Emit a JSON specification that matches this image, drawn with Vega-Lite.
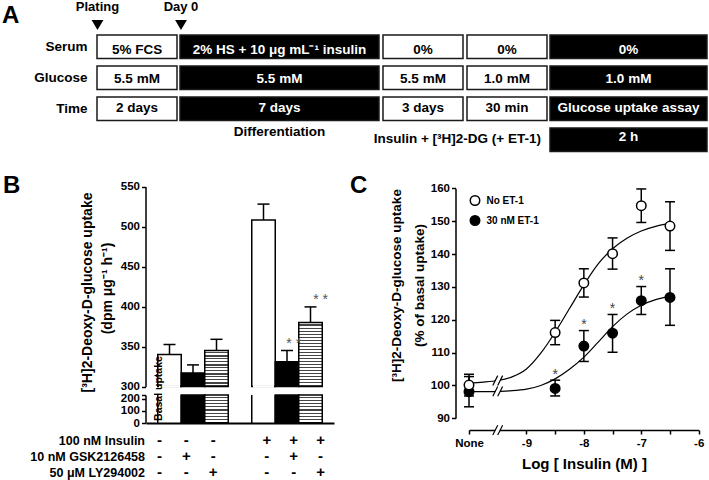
{
"$schema": "https://vega.github.io/schema/vega-lite/v6.json",
"width": 709, "height": 480, "padding": 0, "autosize": {"type": "none"},
"background": "white",
"config": {
 "font": "Liberation Sans",
 "view": {"stroke": null},
 "axis": {"grid": false, "domainColor": "black", "domainWidth": 1.5, "tickColor": "black", "tickWidth": 1.5, "tickSize": 4,
  "labelFont": "Liberation Sans", "labelFontWeight": "bold", "labelFontSize": 11.5, "labelColor": "black", "labelPadding": 2,
  "titleFont": "Liberation Sans", "titleFontWeight": "bold", "titleColor": "black", "labelOverlap": false, "labelFlush": false, "labelBound": false}
},
"resolve": {"scale": {"x": "independent", "y": "independent", "fill": "independent", "color": "independent"},
 "axis": {"x": "independent", "y": "independent"}, "legend": {"fill": "independent", "color": "independent"}},
"datasets": {
 "protocol": [
  {"row":"Serum","x0":97,"x1":177,"label":"5% FCS","shade":"light"},
  {"row":"Serum","x0":180,"x1":379,"label":"2% HS + 10 μg mL⁻¹ insulin","shade":"dark"},
  {"row":"Serum","x0":383,"x1":463,"label":"0%","shade":"light"},
  {"row":"Serum","x0":467,"x1":547,"label":"0%","shade":"light"},
  {"row":"Serum","x0":550,"x1":707,"label":"0%","shade":"dark"},
  {"row":"Glucose","x0":97,"x1":177,"label":"5.5 mM","shade":"light"},
  {"row":"Glucose","x0":180,"x1":379,"label":"5.5 mM","shade":"dark"},
  {"row":"Glucose","x0":383,"x1":463,"label":"5.5 mM","shade":"light"},
  {"row":"Glucose","x0":467,"x1":547,"label":"1.0 mM","shade":"light"},
  {"row":"Glucose","x0":550,"x1":707,"label":"1.0 mM","shade":"dark"},
  {"row":"Time","x0":97,"x1":177,"label":"2 days","shade":"light"},
  {"row":"Time","x0":180,"x1":379,"label":"7 days","shade":"dark"},
  {"row":"Time","x0":383,"x1":463,"label":"3 days","shade":"light"},
  {"row":"Time","x0":467,"x1":547,"label":"30 min","shade":"light"},
  {"row":"Time","x0":550,"x1":707,"label":"Glucose uptake assay","shade":"dark"},
  {"row":"Assay","x0":550,"x1":707,"label":"2 h","shade":"dark"}
 ],
 "notes": [
  {"note":"Differentiation","row":"Assay","x0":180,"x1":379},
  {"note":"Insulin + [³H]2-DG (+ ET-1)","row":"Assay","x0":373,"x1":541}
 ],
 "events": [{"event":"Plating","ex":97.5},{"event":"Day 0","ex":181}],
 "letters": [{"panel":"A","lx":2,"ly":23},{"panel":"B","lx":3,"ly":193},{"panel":"C","lx":350,"ly":193}],
 "uptake": [
  {"cond":"Basal","inhibitor":"none","mean":340,"upper":352.5},
  {"cond":"GSK","inhibitor":"GSK2126458","mean":317,"upper":327},
  {"cond":"LY","inhibitor":"LY294002","mean":345,"upper":359},
  {"cond":"Ins","inhibitor":"none","mean":508,"upper":528},
  {"cond":"Ins+GSK","inhibitor":"GSK2126458","mean":331,"upper":345,"sig":"* *"},
  {"cond":"Ins+LY","inhibitor":"LY294002","mean":380,"upper":399.5,"sig":"* *"}
 ],
 "design": [
  {"cond":"Basal","factor":"100 nM Insulin","sign":"-"},{"cond":"Basal","factor":"10 nM GSK2126458","sign":"-"},{"cond":"Basal","factor":"50 μM LY294002","sign":"-"},
  {"cond":"GSK","factor":"100 nM Insulin","sign":"-"},{"cond":"GSK","factor":"10 nM GSK2126458","sign":"+"},{"cond":"GSK","factor":"50 μM LY294002","sign":"-"},
  {"cond":"LY","factor":"100 nM Insulin","sign":"-"},{"cond":"LY","factor":"10 nM GSK2126458","sign":"-"},{"cond":"LY","factor":"50 μM LY294002","sign":"+"},
  {"cond":"Ins","factor":"100 nM Insulin","sign":"+"},{"cond":"Ins","factor":"10 nM GSK2126458","sign":"-"},{"cond":"Ins","factor":"50 μM LY294002","sign":"-"},
  {"cond":"Ins+GSK","factor":"100 nM Insulin","sign":"+"},{"cond":"Ins+GSK","factor":"10 nM GSK2126458","sign":"+"},{"cond":"Ins+GSK","factor":"50 μM LY294002","sign":"-"},
  {"cond":"Ins+LY","factor":"100 nM Insulin","sign":"+"},{"cond":"Ins+LY","factor":"10 nM GSK2126458","sign":"-"},{"cond":"Ins+LY","factor":"50 μM LY294002","sign":"+"}
 ],
 "doseresp": [
  {"series":"30 nM ET-1","logc":-10,"mean":98.1,"lo":93.5,"hi":102.7},
  {"series":"30 nM ET-1","logc":-8.5,"mean":99.1,"lo":96.8,"hi":101.6,"sig":"*"},
  {"series":"30 nM ET-1","logc":-8,"mean":112,"lo":107.3,"hi":116.7,"sig":"*"},
  {"series":"30 nM ET-1","logc":-7.5,"mean":115.9,"lo":110.1,"hi":121.6,"sig":"*"},
  {"series":"30 nM ET-1","logc":-7,"mean":125.8,"lo":121.6,"hi":130.1,"sig":"*"},
  {"series":"30 nM ET-1","logc":-6.5,"mean":126.8,"lo":118.3,"hi":135.5},
  {"series":"No ET-1","logc":-10,"mean":100.1,"lo":96.8,"hi":103.4},
  {"series":"No ET-1","logc":-8.5,"mean":116.1,"lo":112.4,"hi":119.8},
  {"series":"No ET-1","logc":-8,"mean":131.2,"lo":126.9,"hi":135.5},
  {"series":"No ET-1","logc":-7.5,"mean":140.1,"lo":135.4,"hi":144.9},
  {"series":"No ET-1","logc":-7,"mean":154.7,"lo":149.6,"hi":159.8},
  {"series":"No ET-1","logc":-6.5,"mean":148.5,"lo":141.1,"hi":155.9}
 ],
 "fits": [
  {"series":"No ET-1","logc":-10,"fit":100.7},{"series":"No ET-1","logc":-9.75,"fit":101.0},{"series":"No ET-1","logc":-9.5,"fit":101.5},
  {"series":"No ET-1","logc":-9.25,"fit":102.6},{"series":"No ET-1","logc":-9,"fit":105.0},{"series":"No ET-1","logc":-8.75,"fit":109.8},
  {"series":"No ET-1","logc":-8.5,"fit":116.2},{"series":"No ET-1","logc":-8.25,"fit":123.4},{"series":"No ET-1","logc":-8,"fit":130.6},
  {"series":"No ET-1","logc":-7.75,"fit":137.0},{"series":"No ET-1","logc":-7.5,"fit":141.6},{"series":"No ET-1","logc":-7.25,"fit":144.8},
  {"series":"No ET-1","logc":-7,"fit":147.0},{"series":"No ET-1","logc":-6.75,"fit":148.4},{"series":"No ET-1","logc":-6.5,"fit":149.3},
  {"series":"30 nM ET-1","logc":-10,"fit":98.1},{"series":"30 nM ET-1","logc":-9.75,"fit":98.1},{"series":"30 nM ET-1","logc":-9.5,"fit":98.2},
  {"series":"30 nM ET-1","logc":-9.25,"fit":98.4},{"series":"30 nM ET-1","logc":-9,"fit":98.9},{"series":"30 nM ET-1","logc":-8.75,"fit":100.0},
  {"series":"30 nM ET-1","logc":-8.5,"fit":102.0},{"series":"30 nM ET-1","logc":-8.25,"fit":104.9},{"series":"30 nM ET-1","logc":-8,"fit":108.6},
  {"series":"30 nM ET-1","logc":-7.75,"fit":113.2},{"series":"30 nM ET-1","logc":-7.5,"fit":117.9},{"series":"30 nM ET-1","logc":-7.25,"fit":121.7},
  {"series":"30 nM ET-1","logc":-7,"fit":124.4},{"series":"30 nM ET-1","logc":-6.75,"fit":126.1},{"series":"30 nM ET-1","logc":-6.5,"fit":127.2}
 ],
 "breaks": [
  {"where":"No ET-1 fit","logc":-9.5,"level":101.5},
  {"where":"30 nM ET-1 fit","logc":-9.5,"level":98.2},
  {"where":"x axis","logc":-9.5,"level":86.4}
 ]
},
"layer": [
 {"data":{"name":"protocol"},
  "mark":{"type":"rect","stroke":"#1a1a1a","strokeWidth":1.5},
  "encoding":{
   "x":{"field":"x0","type":"quantitative","scale":{"domain":[0,709],"range":[0,709],"nice":false,"zero":false},"axis":null},
   "x2":{"field":"x1"},
   "y":{"field":"row","type":"nominal","scale":{"domain":["Serum","Glucose","Time","Assay"],"range":[35,151.6],"paddingInner":0.24,"paddingOuter":0},
        "axis":{"orient":"left","offset":-97,"domain":false,"ticks":false,"labelPadding":10,"labelFontSize":13.5,"labelExpr":"datum.value == 'Assay' ? '' : datum.value","title":null}},
   "fill":{"field":"shade","type":"nominal","scale":{"domain":["light","dark"],"range":["white","black"]},"legend":null}}},
 {"data":{"name":"protocol"},
  "transform":[{"calculate":"(datum.x0 + datum.x1) / 2","as":"xc"}],
  "mark":{"type":"text","fontWeight":"bold","fontSize":13.5,"baseline":"middle","align":"center"},
  "encoding":{
   "x":{"field":"xc","type":"quantitative","scale":{"domain":[0,709],"range":[0,709],"nice":false,"zero":false},"axis":null},
   "y":{"field":"row","type":"nominal","scale":{"domain":["Serum","Glucose","Time","Assay"],"range":[35,151.6],"paddingInner":0.24,"paddingOuter":0},"axis":null},
   "text":{"field":"label"},
   "color":{"field":"shade","type":"nominal","scale":{"domain":["light","dark"],"range":["black","white"]},"legend":null}}},
 {"data":{"name":"notes"},
  "transform":[{"filter":"datum.note == 'Differentiation'"},{"calculate":"(datum.x0 + datum.x1) / 2","as":"xc"}],
  "mark":{"type":"text","fontWeight":"bold","fontSize":13.5,"baseline":"middle","align":"center","dy":-5,"color":"black"},
  "encoding":{
   "x":{"field":"xc","type":"quantitative","scale":{"domain":[0,709],"range":[0,709],"nice":false,"zero":false},"axis":null},
   "y":{"field":"row","type":"nominal","scale":{"domain":["Serum","Glucose","Time","Assay"],"range":[35,151.6],"paddingInner":0.24,"paddingOuter":0},"axis":null},
   "text":{"field":"note"}}},
 {"data":{"name":"notes"},
  "transform":[{"filter":"datum.note != 'Differentiation'"}],
  "mark":{"type":"text","fontWeight":"bold","fontSize":13.5,"baseline":"middle","align":"right","dy":2,"color":"black"},
  "encoding":{
   "x":{"field":"x1","type":"quantitative","scale":{"domain":[0,709],"range":[0,709],"nice":false,"zero":false},"axis":null},
   "y":{"field":"row","type":"nominal","scale":{"domain":["Serum","Glucose","Time","Assay"],"range":[35,151.6],"paddingInner":0.24,"paddingOuter":0},"axis":null},
   "text":{"field":"note"}}},
 {"data":{"name":"events"},
  "mark":{"type":"point","shape":"triangle-down","filled":true,"color":"black","opacity":1,"size":140},
  "encoding":{
   "x":{"field":"ex","type":"quantitative","scale":{"domain":[0,709],"range":[0,709],"nice":false,"zero":false},"axis":null},
   "y":{"datum":25,"type":"quantitative","scale":{"domain":[0,480],"range":[0,480],"nice":false,"zero":false},"axis":null}}},
 {"data":{"name":"events"},
  "mark":{"type":"text","fontWeight":"bold","fontSize":13,"baseline":"middle","align":"center","color":"black"},
  "encoding":{
   "x":{"field":"ex","type":"quantitative","scale":{"domain":[0,709],"range":[0,709],"nice":false,"zero":false},"axis":null},
   "y":{"datum":6.5,"type":"quantitative","scale":{"domain":[0,480],"range":[0,480],"nice":false,"zero":false},"axis":null},
   "text":{"field":"event"}}},
 {"data":{"name":"letters"},
  "mark":{"type":"text","fontWeight":"bold","fontSize":24,"baseline":"alphabetic","align":"left","color":"black"},
  "encoding":{
   "x":{"field":"lx","type":"quantitative","scale":{"domain":[0,709],"range":[0,709],"nice":false,"zero":false},"axis":null},
   "y":{"field":"ly","type":"quantitative","scale":{"domain":[0,480],"range":[0,480],"nice":false,"zero":false},"axis":null},
   "text":{"field":"panel"}}},

 {"data":{"name":"uptake"},
  "transform":[{"filter":"datum.inhibitor == 'none'"}],
  "mark":{"type":"rect","fill":"white","stroke":"black","strokeWidth":1.5},
  "encoding":{
   "x":{"field":"cond","type":"nominal","scale":{"domain":["Basal","GSK","LY","gap","Ins","Ins+GSK","Ins+LY"],"range":[146,334],"paddingInner":0,"paddingOuter":0.5},
        "axis":{"orient":"bottom","offset":-57,"ticks":false,"labels":false,"domainWidth":2.2,"title":null}},
   "y":{"field":"mean","type":"quantitative","scale":{"domain":[300,550],"range":[386.5,186.5],"nice":false,"zero":false},
        "axis":{"orient":"left","offset":-145.5,"values":[300,350,400,450,500,550],"title":"[³H]2-Deoxy-D-glucose uptake","titleX":-58,"titleY":292,"titleAngle":270,"titleAlign":"center","titleBaseline":"middle","titleFontSize":14}},
   "y2":{"datum":300}}},
 {"data":{"name":"uptake"},
  "transform":[{"filter":"datum.inhibitor == 'none'"}],
  "mark":{"type":"tick","orient":"horizontal","color":"white","opacity":1,"size":21,"thickness":2.5},
  "encoding":{
   "x":{"field":"cond","type":"nominal","scale":{"domain":["Basal","GSK","LY","gap","Ins","Ins+GSK","Ins+LY"],"range":[146,334],"paddingInner":0,"paddingOuter":0.5},"axis":null},
   "y":{"datum":300,"type":"quantitative","scale":{"domain":[300,550],"range":[386.5,186.5],"nice":false,"zero":false},"axis":null}}},
 {"data":{"name":"uptake"},
  "transform":[{"filter":"datum.inhibitor == 'GSK2126458'"}],
  "mark":{"type":"rect","fill":"black","stroke":"black","strokeWidth":1.5},
  "encoding":{
   "x":{"field":"cond","type":"nominal","scale":{"domain":["Basal","GSK","LY","gap","Ins","Ins+GSK","Ins+LY"],"range":[146,334],"paddingInner":0,"paddingOuter":0.5},"axis":null},
   "y":{"field":"mean","type":"quantitative","scale":{"domain":[300,550],"range":[386.5,186.5],"nice":false,"zero":false},"axis":null},
   "y2":{"datum":300}}},
 {"data":{"name":"uptake"},
  "transform":[{"filter":"datum.cond == 'LY'"}],
  "mark":{"type":"rect","stroke":"black","strokeWidth":1.5,
   "fill":{"gradient":"linear","x1":0,"y1":0,"x2":0,"y2":1,"stops":[
    {"offset":0,"color":"#fff"},{"offset":0.0542,"color":"#fff"},{"offset":0.0542,"color":"#444"},{"offset":0.0833,"color":"#444"},
    {"offset":0.0833,"color":"#fff"},{"offset":0.1375,"color":"#fff"},{"offset":0.1375,"color":"#444"},{"offset":0.1667,"color":"#444"},
    {"offset":0.1667,"color":"#fff"},{"offset":0.2208,"color":"#fff"},{"offset":0.2208,"color":"#444"},{"offset":0.25,"color":"#444"},
    {"offset":0.25,"color":"#fff"},{"offset":0.3042,"color":"#fff"},{"offset":0.3042,"color":"#444"},{"offset":0.3333,"color":"#444"},
    {"offset":0.3333,"color":"#fff"},{"offset":0.3875,"color":"#fff"},{"offset":0.3875,"color":"#444"},{"offset":0.4167,"color":"#444"},
    {"offset":0.4167,"color":"#fff"},{"offset":0.4708,"color":"#fff"},{"offset":0.4708,"color":"#444"},{"offset":0.5,"color":"#444"},
    {"offset":0.5,"color":"#fff"},{"offset":0.5542,"color":"#fff"},{"offset":0.5542,"color":"#444"},{"offset":0.5833,"color":"#444"},
    {"offset":0.5833,"color":"#fff"},{"offset":0.6375,"color":"#fff"},{"offset":0.6375,"color":"#444"},{"offset":0.6667,"color":"#444"},
    {"offset":0.6667,"color":"#fff"},{"offset":0.7208,"color":"#fff"},{"offset":0.7208,"color":"#444"},{"offset":0.75,"color":"#444"},
    {"offset":0.75,"color":"#fff"},{"offset":0.8042,"color":"#fff"},{"offset":0.8042,"color":"#444"},{"offset":0.8333,"color":"#444"},
    {"offset":0.8333,"color":"#fff"},{"offset":0.8875,"color":"#fff"},{"offset":0.8875,"color":"#444"},{"offset":0.9167,"color":"#444"},
    {"offset":0.9167,"color":"#fff"},{"offset":0.9708,"color":"#fff"},{"offset":0.9708,"color":"#444"},{"offset":1,"color":"#444"}]}},
  "encoding":{
   "x":{"field":"cond","type":"nominal","scale":{"domain":["Basal","GSK","LY","gap","Ins","Ins+GSK","Ins+LY"],"range":[146,334],"paddingInner":0,"paddingOuter":0.5},"axis":null},
   "y":{"field":"mean","type":"quantitative","scale":{"domain":[300,550],"range":[386.5,186.5],"nice":false,"zero":false},"axis":null},
   "y2":{"datum":300}}},
 {"data":{"name":"uptake"},
  "transform":[{"filter":"datum.cond == 'Ins+LY'"}],
  "mark":{"type":"rect","stroke":"black","strokeWidth":1.5,
   "fill":{"gradient":"linear","x1":0,"y1":0,"x2":0,"y2":1,"stops":[
    {"offset":0,"color":"#fff"},{"offset":0.031,"color":"#fff"},{"offset":0.031,"color":"#444"},{"offset":0.0476,"color":"#444"},
    {"offset":0.0476,"color":"#fff"},{"offset":0.0786,"color":"#fff"},{"offset":0.0786,"color":"#444"},{"offset":0.0952,"color":"#444"},
    {"offset":0.0952,"color":"#fff"},{"offset":0.1262,"color":"#fff"},{"offset":0.1262,"color":"#444"},{"offset":0.1429,"color":"#444"},
    {"offset":0.1429,"color":"#fff"},{"offset":0.1738,"color":"#fff"},{"offset":0.1738,"color":"#444"},{"offset":0.1905,"color":"#444"},
    {"offset":0.1905,"color":"#fff"},{"offset":0.2214,"color":"#fff"},{"offset":0.2214,"color":"#444"},{"offset":0.2381,"color":"#444"},
    {"offset":0.2381,"color":"#fff"},{"offset":0.269,"color":"#fff"},{"offset":0.269,"color":"#444"},{"offset":0.2857,"color":"#444"},
    {"offset":0.2857,"color":"#fff"},{"offset":0.3167,"color":"#fff"},{"offset":0.3167,"color":"#444"},{"offset":0.3333,"color":"#444"},
    {"offset":0.3333,"color":"#fff"},{"offset":0.3643,"color":"#fff"},{"offset":0.3643,"color":"#444"},{"offset":0.381,"color":"#444"},
    {"offset":0.381,"color":"#fff"},{"offset":0.4119,"color":"#fff"},{"offset":0.4119,"color":"#444"},{"offset":0.4286,"color":"#444"},
    {"offset":0.4286,"color":"#fff"},{"offset":0.4595,"color":"#fff"},{"offset":0.4595,"color":"#444"},{"offset":0.4762,"color":"#444"},
    {"offset":0.4762,"color":"#fff"},{"offset":0.5071,"color":"#fff"},{"offset":0.5071,"color":"#444"},{"offset":0.5238,"color":"#444"},
    {"offset":0.5238,"color":"#fff"},{"offset":0.5548,"color":"#fff"},{"offset":0.5548,"color":"#444"},{"offset":0.5714,"color":"#444"},
    {"offset":0.5714,"color":"#fff"},{"offset":0.6024,"color":"#fff"},{"offset":0.6024,"color":"#444"},{"offset":0.619,"color":"#444"},
    {"offset":0.619,"color":"#fff"},{"offset":0.65,"color":"#fff"},{"offset":0.65,"color":"#444"},{"offset":0.6667,"color":"#444"},
    {"offset":0.6667,"color":"#fff"},{"offset":0.6976,"color":"#fff"},{"offset":0.6976,"color":"#444"},{"offset":0.7143,"color":"#444"},
    {"offset":0.7143,"color":"#fff"},{"offset":0.7452,"color":"#fff"},{"offset":0.7452,"color":"#444"},{"offset":0.7619,"color":"#444"},
    {"offset":0.7619,"color":"#fff"},{"offset":0.7929,"color":"#fff"},{"offset":0.7929,"color":"#444"},{"offset":0.8095,"color":"#444"},
    {"offset":0.8095,"color":"#fff"},{"offset":0.8405,"color":"#fff"},{"offset":0.8405,"color":"#444"},{"offset":0.8571,"color":"#444"},
    {"offset":0.8571,"color":"#fff"},{"offset":0.8881,"color":"#fff"},{"offset":0.8881,"color":"#444"},{"offset":0.9048,"color":"#444"},
    {"offset":0.9048,"color":"#fff"},{"offset":0.9357,"color":"#fff"},{"offset":0.9357,"color":"#444"},{"offset":0.9524,"color":"#444"},
    {"offset":0.9524,"color":"#fff"},{"offset":0.9833,"color":"#fff"},{"offset":0.9833,"color":"#444"},{"offset":1,"color":"#444"}]}},
  "encoding":{
   "x":{"field":"cond","type":"nominal","scale":{"domain":["Basal","GSK","LY","gap","Ins","Ins+GSK","Ins+LY"],"range":[146,334],"paddingInner":0,"paddingOuter":0.5},"axis":null},
   "y":{"field":"mean","type":"quantitative","scale":{"domain":[300,550],"range":[386.5,186.5],"nice":false,"zero":false},"axis":null},
   "y2":{"datum":300}}},
 {"data":{"name":"uptake"},
  "transform":[{"filter":"datum.inhibitor == 'GSK2126458'"}],
  "mark":{"type":"rect","fill":"black","stroke":"black","strokeWidth":1.5},
  "encoding":{
   "x":{"field":"cond","type":"nominal","scale":{"domain":["Basal","GSK","LY","gap","Ins","Ins+GSK","Ins+LY"],"range":[146,334],"paddingInner":0,"paddingOuter":0.5},"axis":null},
   "y":{"datum":0,"type":"quantitative","scale":{"domain":[0,230],"range":[423,395],"nice":false,"zero":false},
        "axis":{"orient":"left","offset":-145.5,"values":[0,100,200,230],"labelExpr":"datum.value == 230 ? '' : datum.label","title":"(dpm μg⁻¹ h⁻¹)","titleX":-38,"titleY":288,"titleAngle":270,"titleAlign":"center","titleBaseline":"middle","titleFontSize":14}},
   "y2":{"datum":230}}},
 {"data":{"name":"uptake"},
  "transform":[{"filter":"datum.inhibitor == 'LY294002'"}],
  "mark":{"type":"rect","stroke":"black","strokeWidth":1.5,
   "fill":{"gradient":"linear","x1":0,"y1":0,"x2":0,"y2":1,"stops":[
    {"offset":0,"color":"#fff"},{"offset":0.0722,"color":"#fff"},{"offset":0.0722,"color":"#444"},{"offset":0.1111,"color":"#444"},
    {"offset":0.1111,"color":"#fff"},{"offset":0.1833,"color":"#fff"},{"offset":0.1833,"color":"#444"},{"offset":0.2222,"color":"#444"},
    {"offset":0.2222,"color":"#fff"},{"offset":0.2944,"color":"#fff"},{"offset":0.2944,"color":"#444"},{"offset":0.3333,"color":"#444"},
    {"offset":0.3333,"color":"#fff"},{"offset":0.4056,"color":"#fff"},{"offset":0.4056,"color":"#444"},{"offset":0.4444,"color":"#444"},
    {"offset":0.4444,"color":"#fff"},{"offset":0.5167,"color":"#fff"},{"offset":0.5167,"color":"#444"},{"offset":0.5556,"color":"#444"},
    {"offset":0.5556,"color":"#fff"},{"offset":0.6278,"color":"#fff"},{"offset":0.6278,"color":"#444"},{"offset":0.6667,"color":"#444"},
    {"offset":0.6667,"color":"#fff"},{"offset":0.7389,"color":"#fff"},{"offset":0.7389,"color":"#444"},{"offset":0.7778,"color":"#444"},
    {"offset":0.7778,"color":"#fff"},{"offset":0.85,"color":"#fff"},{"offset":0.85,"color":"#444"},{"offset":0.8889,"color":"#444"},
    {"offset":0.8889,"color":"#fff"},{"offset":0.9611,"color":"#fff"},{"offset":0.9611,"color":"#444"},{"offset":1,"color":"#444"}]}},
  "encoding":{
   "x":{"field":"cond","type":"nominal","scale":{"domain":["Basal","GSK","LY","gap","Ins","Ins+GSK","Ins+LY"],"range":[146,334],"paddingInner":0,"paddingOuter":0.5},"axis":null},
   "y":{"datum":0,"type":"quantitative","scale":{"domain":[0,230],"range":[423,395],"nice":false,"zero":false},"axis":null},
   "y2":{"datum":230}}},
 {"data":{"name":"uptake"},
  "transform":[{"filter":"datum.inhibitor == 'none'"}],
  "mark":{"type":"rule","color":"black","strokeWidth":1.5},
  "encoding":{
   "x":{"field":"cond","type":"nominal","bandPosition":0,"scale":{"domain":["Basal","GSK","LY","gap","Ins","Ins+GSK","Ins+LY"],"range":[146,334],"paddingInner":0,"paddingOuter":0.5},"axis":null},
   "y":{"datum":0,"type":"quantitative","scale":{"domain":[0,230],"range":[423,395],"nice":false,"zero":false},"axis":null},
   "y2":{"datum":230}}},
 {"data":{"name":"uptake"},
  "transform":[{"filter":"datum.inhibitor == 'none'"}],
  "mark":{"type":"rule","color":"black","strokeWidth":1.5},
  "encoding":{
   "x":{"field":"cond","type":"nominal","bandPosition":1,"scale":{"domain":["Basal","GSK","LY","gap","Ins","Ins+GSK","Ins+LY"],"range":[146,334],"paddingInner":0,"paddingOuter":0.5},"axis":null},
   "y":{"datum":0,"type":"quantitative","scale":{"domain":[0,230],"range":[423,395],"nice":false,"zero":false},"axis":null},
   "y2":{"datum":230}}},
 {"data":{"name":"uptake"},
  "mark":{"type":"rule","color":"black","strokeWidth":1.5},
  "encoding":{
   "x":{"field":"cond","type":"nominal","bandPosition":0.5,"scale":{"domain":["Basal","GSK","LY","gap","Ins","Ins+GSK","Ins+LY"],"range":[146,334],"paddingInner":0,"paddingOuter":0.5},"axis":null},
   "y":{"field":"mean","type":"quantitative","scale":{"domain":[300,550],"range":[386.5,186.5],"nice":false,"zero":false},"axis":null},
   "y2":{"field":"upper"}}},
 {"data":{"name":"uptake"},
  "mark":{"type":"tick","orient":"horizontal","color":"black","opacity":1,"size":12,"thickness":1.5},
  "encoding":{
   "x":{"field":"cond","type":"nominal","scale":{"domain":["Basal","GSK","LY","gap","Ins","Ins+GSK","Ins+LY"],"range":[146,334],"paddingInner":0,"paddingOuter":0.5},"axis":null},
   "y":{"field":"upper","type":"quantitative","scale":{"domain":[300,550],"range":[386.5,186.5],"nice":false,"zero":false},"axis":null}}},
 {"data":{"name":"uptake"},
  "transform":[{"filter":"isValid(datum.sig)"}],
  "mark":{"type":"text","fontSize":14,"baseline":"alphabetic","align":"center","dy":-3,"color":"#555"},
  "encoding":{
   "x":{"field":"cond","type":"nominal","scale":{"domain":["Basal","GSK","LY","gap","Ins","Ins+GSK","Ins+LY"],"range":[146,334],"paddingInner":0,"paddingOuter":0.5},"axis":null},
   "y":{"field":"upper","type":"quantitative","scale":{"domain":[300,550],"range":[386.5,186.5],"nice":false,"zero":false},"axis":null},
   "text":{"field":"sig"}}},
 {"data":{"values":[{"cond":"Basal","note":"Basal uptake","at":297.5}]},
  "mark":{"type":"text","fontSize":10.5,"fontWeight":"bold","angle":270,"baseline":"middle","align":"center","color":"black"},
  "encoding":{
   "x":{"field":"cond","type":"nominal","scale":{"domain":["Basal","GSK","LY","gap","Ins","Ins+GSK","Ins+LY"],"range":[146,334],"paddingInner":0,"paddingOuter":0.5},"axis":null},
   "y":{"field":"at","type":"quantitative","scale":{"domain":[300,550],"range":[386.5,186.5],"nice":false,"zero":false},"axis":null},
   "text":{"field":"note"}}},
 {"data":{"name":"design"},
  "mark":{"type":"text","fontSize":15,"fontWeight":"bold","baseline":"middle","align":"center","color":"black"},
  "encoding":{
   "x":{"field":"cond","type":"nominal","scale":{"domain":["Basal","GSK","LY","gap","Ins","Ins+GSK","Ins+LY"],"range":[146,334],"paddingInner":0,"paddingOuter":0.5},"axis":null},
   "y":{"field":"factor","type":"nominal","scale":{"type":"point","domain":["100 nM Insulin","10 nM GSK2126458","50 μM LY294002"],"range":[440,472],"padding":0},
        "axis":{"orient":"left","offset":-145.5,"domain":false,"ticks":false,"labelPadding":1,"labelFontSize":12.5,"title":null}},
   "text":{"field":"sign"}}},

 {"data":{"name":"doseresp"},
  "mark":{"type":"rule","color":"black","strokeWidth":1.5},
  "encoding":{
   "x":{"field":"logc","type":"quantitative","scale":{"domain":[-10,-6],"range":[469,698.7],"nice":false,"zero":false},
        "axis":{"orient":"bottom","offset":-50,"values":[-10,-9,-8.5,-8,-7.5,-7,-6.5,-6],"labelExpr":"datum.value == -10 ? 'None' : (datum.value % 1 == 0 ? '' + datum.value : '')","labelPadding":3,
                "title":"Log [ Insulin (M) ]","titleX":584,"titleY":38,"titleAlign":"center","titleBaseline":"alphabetic","titleAngle":0,"titleFontSize":15}},
   "y":{"field":"lo","type":"quantitative","scale":{"domain":[90,160],"range":[418.3,188.3],"nice":false,"zero":false},
        "axis":{"orient":"left","offset":-455.5,"domain":false,"ticks":false,"labels":false,"title":"(% of basal uptake)","titleX":-36,"titleY":285,"titleAngle":270,"titleAlign":"center","titleBaseline":"middle","titleFontSize":13.5}},
   "y2":{"field":"hi"}}},
 {"data":{"name":"doseresp"},
  "mark":{"type":"tick","orient":"horizontal","color":"black","opacity":1,"size":10,"thickness":1.5},
  "encoding":{
   "x":{"field":"logc","type":"quantitative","scale":{"domain":[-10,-6],"range":[469,698.7],"nice":false,"zero":false},"axis":null},
   "y":{"field":"lo","type":"quantitative","scale":{"domain":[90,160],"range":[418.3,188.3],"nice":false,"zero":false},"axis":null}}},
 {"data":{"name":"doseresp"},
  "mark":{"type":"tick","orient":"horizontal","color":"black","opacity":1,"size":10,"thickness":1.5},
  "encoding":{
   "x":{"field":"logc","type":"quantitative","scale":{"domain":[-10,-6],"range":[469,698.7],"nice":false,"zero":false},"axis":null},
   "y":{"field":"hi","type":"quantitative","scale":{"domain":[90,160],"range":[418.3,188.3],"nice":false,"zero":false},"axis":null}}},
 {"data":{"name":"fits"},
  "mark":{"type":"line","color":"black","strokeWidth":1.2,"interpolate":"monotone"},
  "encoding":{
   "x":{"field":"logc","type":"quantitative","scale":{"domain":[-10,-6],"range":[469,698.7],"nice":false,"zero":false},"axis":null},
   "y":{"field":"fit","type":"quantitative","scale":{"domain":[90,160],"range":[418.3,188.3],"nice":false,"zero":false},"axis":null},
   "detail":{"field":"series","type":"nominal"}}},
 {"data":{"name":"breaks"},
  "mark":{"type":"point","shape":"M-0.8,0.8L0,-0.8L0.8,-0.8L0,0.8Z","filled":true,"color":"white","opacity":1,"strokeWidth":0,"size":150},
  "encoding":{
   "x":{"field":"logc","type":"quantitative","scale":{"domain":[-10,-6],"range":[469,698.7],"nice":false,"zero":false},"axis":null},
   "y":{"field":"level","type":"quantitative","scale":{"domain":[90,160],"range":[418.3,188.3],"nice":false,"zero":false},"axis":null}}},
 {"data":{"name":"breaks"},
  "mark":{"type":"point","shape":"M-0.8,0.8L0,-0.8M0,0.8L0.8,-0.8","filled":false,"color":"black","opacity":1,"strokeWidth":1.2,"size":150},
  "encoding":{
   "x":{"field":"logc","type":"quantitative","scale":{"domain":[-10,-6],"range":[469,698.7],"nice":false,"zero":false},"axis":null},
   "y":{"field":"level","type":"quantitative","scale":{"domain":[90,160],"range":[418.3,188.3],"nice":false,"zero":false},"axis":null}}},
 {"data":{"name":"doseresp"},
  "mark":{"type":"point","filled":true,"color":"black","stroke":"black","strokeWidth":1.5,"opacity":1,"size":90},
  "encoding":{
   "x":{"field":"logc","type":"quantitative","scale":{"domain":[-10,-6],"range":[469,698.7],"nice":false,"zero":false},"axis":null},
   "y":{"field":"mean","type":"quantitative","scale":{"domain":[90,160],"range":[418.3,188.3],"nice":false,"zero":false},
        "axis":{"orient":"left","offset":-455.5,"values":[90,100,110,120,130,140,150,160],"title":"[³H]2-Deoxy-D-glucose uptake","titleX":-59,"titleY":285,"titleAngle":270,"titleAlign":"center","titleBaseline":"middle","titleFontSize":13.5}},
   "fill":{"field":"series","type":"nominal","scale":{"domain":["No ET-1","30 nM ET-1"],"range":["white","black"]},
           "legend":{"orient":"none","legendX":469.5,"legendY":195,"title":null,"padding":0,"symbolType":"circle","symbolSize":90,"symbolStrokeColor":"black","symbolStrokeWidth":1.5,
                     "labelFont":"Liberation Sans","labelFontSize":10,"labelFontWeight":"bold","labelColor":"black","labelOffset":6,"rowPadding":3}},
   "stroke":{"value":"black"}}},
 {"data":{"name":"doseresp"},
  "transform":[{"filter":"isValid(datum.sig)"}],
  "mark":{"type":"text","fontSize":14,"baseline":"alphabetic","align":"center","dy":-1.5,"color":"#444"},
  "encoding":{
   "x":{"field":"logc","type":"quantitative","scale":{"domain":[-10,-6],"range":[469,698.7],"nice":false,"zero":false},"axis":null},
   "y":{"field":"hi","type":"quantitative","scale":{"domain":[90,160],"range":[418.3,188.3],"nice":false,"zero":false},"axis":null},
   "text":{"field":"sig"}}}
]
}
